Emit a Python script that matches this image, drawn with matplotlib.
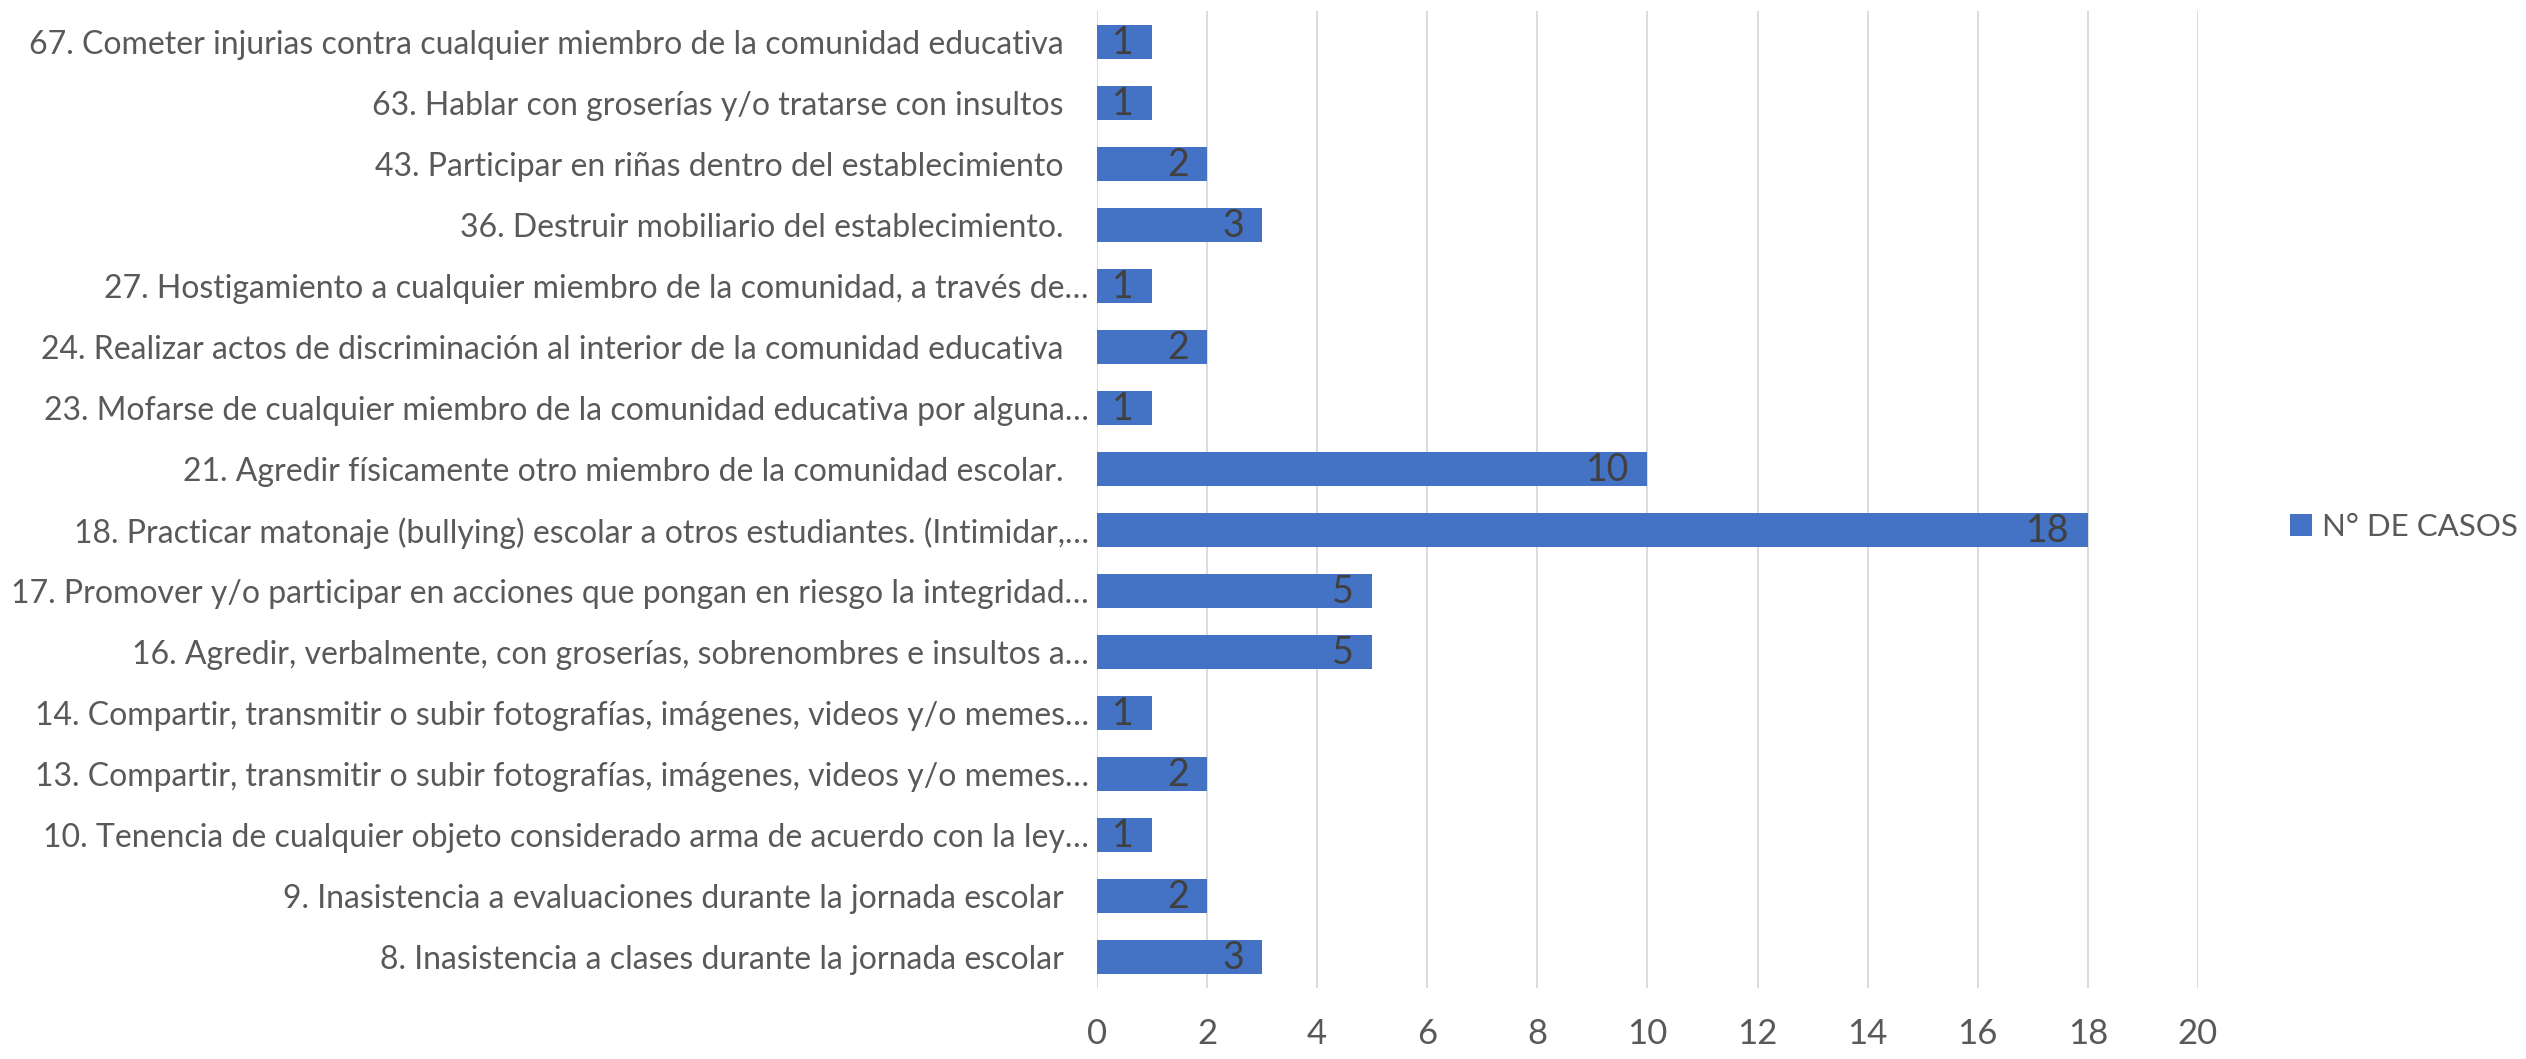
import matplotlib
matplotlib.use('Agg')
import matplotlib.pyplot as plt

# datos (de arriba hacia abajo, como en el gráfico)
faltas = [
    '67. Cometer injurias contra cualquier miembro de la comunidad educativa',
    '63. Hablar con groserías y/o tratarse con insultos',
    '43. Participar en riñas dentro del establecimiento',
    '36. Destruir mobiliario del establecimiento.',
    '27. Hostigamiento a cualquier miembro de la comunidad, a través de…',
    '24. Realizar actos de discriminación al interior de la comunidad educativa',
    '23. Mofarse de cualquier miembro de la comunidad educativa por alguna…',
    '21. Agredir físicamente otro miembro de la comunidad escolar.',
    '18. Practicar matonaje (bullying) escolar a otros estudiantes. (Intimidar,…',
    '17. Promover y/o participar en acciones que pongan en riesgo la integridad…',
    '16. Agredir, verbalmente, con groserías, sobrenombres e insultos a…',
    '14. Compartir, transmitir o subir fotografías, imágenes, videos y/o memes…',
    '13. Compartir, transmitir o subir fotografías, imágenes, videos y/o memes…',
    '10. Tenencia de cualquier objeto considerado arma de acuerdo con la ley…',
    '9. Inasistencia a evaluaciones durante la jornada escolar',
    '8. Inasistencia a clases durante la jornada escolar',
]
casos = [1, 1, 2, 3, 1, 2, 1, 10, 18, 5, 5, 1, 2, 1, 2, 3]
x_ticks = list(range(0, 21, 2))

BAR = '#4472C4'
TXT = '#595959'

plt.rcParams['font.family'] = ['Lato', 'DejaVu Sans']

fig = plt.figure(figsize=(25.26, 10.59), dpi=100, facecolor='white')
ax = fig.add_axes([0.4343, 0.0675, 0.4358, 0.9217])

pos = list(range(len(faltas)))
ax.barh(pos, casos, height=0.55, color=BAR, label='N° DE CASOS', zorder=3)

for p, v in zip(pos, casos):
    ax.annotate(str(v), (v, p), xytext=(-13, -1), textcoords='offset points',
                ha='right', va='center', fontsize=27, color='#404040', zorder=4)

# las etiquetas completas (sin "…") quedan un poco más a la izquierda
etiquetas = [f if f.endswith('…') else f + '   ' for f in faltas]
ax.set_yticks(pos)
ax.set_yticklabels(etiquetas, fontsize=23, color=TXT)
ax.set_ylim(len(faltas) - 0.5, -0.5)
ax.set_xlim(0, 20)
ax.set_xticks(x_ticks)
ax.set_xticklabels([str(t) for t in x_ticks], fontsize=25, color=TXT)
ax.tick_params(axis='both', length=0)
ax.tick_params(axis='x', pad=22)
ax.tick_params(axis='y', pad=6)
ax.grid(axis='x', color='#d9d9d9', linewidth=1.3, zorder=0)
for s in ax.spines.values():
    s.set_visible(False)

fig.legend(loc='center left', bbox_to_anchor=(0.8955, 0.5024), frameon=False,
           fontsize=22.5, labelcolor=TXT, handlelength=0.7, handleheight=0.7,
           handletextpad=0.32)

fig.savefig('out.png', dpi=100, facecolor='white')
